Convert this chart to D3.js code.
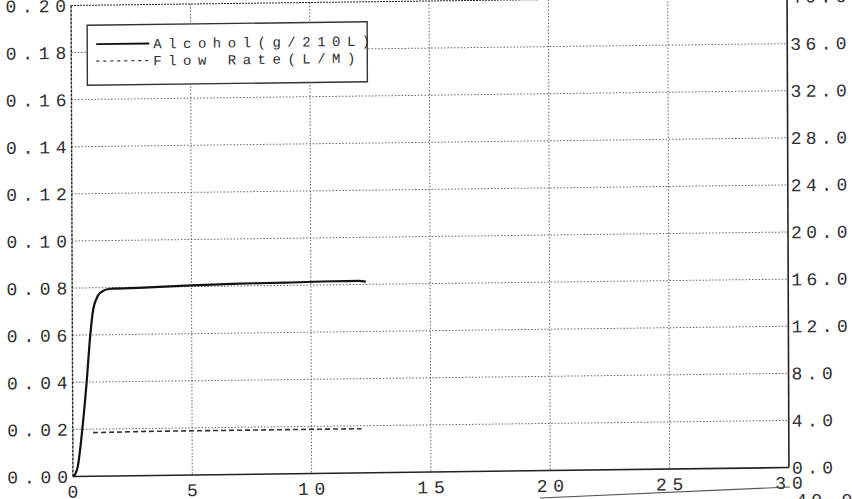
<!DOCTYPE html>
<html>
<head>
<meta charset="utf-8">
<script src="https://cdn.jsdelivr.net/npm/d3@7"></script>
<style>
  body { margin: 0; background: #fff; }
  text { font-family: "Liberation Mono", "DejaVu Sans Mono", monospace; }
</style>
</head>
<body>
<div id="plot"></div>
<script>
// values
const alcTime = [0, 0.1, 0.2, 0.4, 0.59, 0.75, 0.88, 1.0, 1.17, 1.6, 3, 5, 7, 9, 11, 12, 12.3];
const alcohol = [0, 0.001, 0.004, 0.02, 0.04, 0.06, 0.071, 0.075, 0.0778, 0.0795, 0.0798, 0.0805, 0.081, 0.0812, 0.0815, 0.0815, 0.0812];
const flowTime = [0.85, 3, 6, 9, 12.1];
const flowRate = [3.7, 3.75, 3.75, 3.75, 3.75];
const xTicks = [0, 5, 10, 15, 20, 25, 30];
const leftTicks = [0, 0.02, 0.04, 0.06, 0.08, 0.10, 0.12, 0.14, 0.16, 0.18, 0.20];
const rightTicks = [0, 4, 8, 12, 16, 20, 24, 28, 32, 36, 40];
const legendLabels = ["Alcohol(g/210L)", "Flow Rate(L/M)"];

const W = 852, H = 499;
const plot = { left: 72, right: 788, top: 1, bottom: 472 };

const x = d3.scaleLinear().domain([0, 30]).range([plot.left, plot.right]);
const y = d3.scaleLinear().domain([0, 0.2]).range([plot.bottom, plot.top]);
const y2 = d3.scaleLinear().domain([0, 40]).range([plot.bottom, plot.top]);

const svg = d3.select("#plot").append("svg")
  .attr("width", W)
  .attr("height", H);

// the scan is slightly skewed, so the whole chart gets a small skew
const sx = 0.004, sy = -0.0125, cx = 430, cy = 236;
const g = svg.append("g")
  .attr("transform", `matrix(1,${sy},${sx},1,${-sx * cy},${-sy * cx})`);

const ink = "#222", grid = "#666", txt = "#2e2e2e";
const tickSize = 18, tickSpacing = 5.8;

// grid
g.append("g").selectAll("line").data(leftTicks.slice(1, -1)).join("line")
  .attr("x1", plot.left).attr("x2", plot.right)
  .attr("y1", d => y(d)).attr("y2", d => y(d))
  .attr("stroke", grid).attr("stroke-width", 1).attr("stroke-dasharray", "1.5,1.8");

g.append("g").selectAll("line").data(xTicks.slice(1, -1)).join("line")
  .attr("x1", d => x(d)).attr("x2", d => x(d))
  .attr("y1", plot.top).attr("y2", plot.bottom)
  .attr("stroke", grid).attr("stroke-width", 1).attr("stroke-dasharray", "1.5,1.8");

// frame
g.append("line").attr("x1", plot.left).attr("x2", plot.right)
  .attr("y1", plot.top).attr("y2", plot.top)
  .attr("stroke", ink).attr("stroke-width", 1).attr("stroke-dasharray", "2,1");
g.append("line").attr("x1", plot.left).attr("x2", plot.right)
  .attr("y1", plot.bottom).attr("y2", plot.bottom)
  .attr("stroke", ink).attr("stroke-width", 1.6);
g.append("line").attr("x1", plot.left).attr("x2", plot.left)
  .attr("y1", plot.top).attr("y2", plot.bottom)
  .attr("stroke", ink).attr("stroke-width", 1.4).attr("stroke-dasharray", "3,1");
g.append("line").attr("x1", plot.right).attr("x2", plot.right)
  .attr("y1", plot.top).attr("y2", plot.bottom)
  .attr("stroke", ink).attr("stroke-width", 1.6);

// tick labels
g.append("g").selectAll("text").data(leftTicks).join("text")
  .attr("x", plot.left - 5 + tickSpacing)
  .attr("y", d => y(d))
  .attr("dy", "0.35em")
  .attr("text-anchor", "end")
  .attr("font-size", tickSize)
  .attr("letter-spacing", tickSpacing)
  .attr("fill", txt)
  .text(d => d3.format(".2f")(d));

g.append("g").selectAll("text").data(rightTicks).join("text")
  .attr("x", plot.right + 3)
  .attr("y", d => y2(d))
  .attr("dy", "0.35em")
  .attr("font-size", tickSize)
  .attr("letter-spacing", 4.4)
  .attr("fill", txt)
  .text(d => d3.format(".1f")(d));

g.append("g").selectAll("text").data(xTicks).join("text")
  .attr("x", d => x(d) + tickSpacing / 2)
  .attr("y", plot.bottom + 15)
  .attr("dy", "0.35em")
  .attr("text-anchor", "middle")
  .attr("font-size", tickSize)
  .attr("letter-spacing", tickSpacing)
  .attr("fill", txt)
  .text(d => d);

// series
const alcData = alcTime.map((t, i) => ({ t, v: alcohol[i] }));
const flowData = flowTime.map((t, i) => ({ t, v: flowRate[i] }));

g.append("path").datum(alcData)
  .attr("fill", "none")
  .attr("stroke", "#111")
  .attr("stroke-width", 2.2)
  .attr("stroke-linejoin", "round")
  .attr("d", d3.line().x(d => x(d.t)).y(d => y(d.v)).curve(d3.curveMonotoneX));

g.append("path").datum(flowData)
  .attr("fill", "none")
  .attr("stroke", "#333")
  .attr("stroke-width", 1.6)
  .attr("stroke-dasharray", "5,3")
  .attr("d", d3.line().x(d => x(d.t)).y(d => y2(d.v)));

// legend
const lg = g.append("g").attr("transform", "translate(88,21)");
lg.append("rect")
  .attr("width", 280).attr("height", 60)
  .attr("fill", "#fff")
  .attr("stroke", "#333").attr("stroke-width", 1.4);
legendLabels.forEach((label, i) => {
  const ly = 19 + i * 17;
  lg.append("line")
    .attr("x1", 9).attr("x2", 62)
    .attr("y1", ly).attr("y2", ly)
    .attr("stroke", i === 0 ? "#111" : "#333")
    .attr("stroke-width", i === 0 ? 1.8 : 1.2)
    .attr("stroke-dasharray", i === 0 ? null : "3,4");
  lg.append("text")
    .attr("x", 66).attr("y", ly)
    .attr("dy", "0.35em")
    .attr("font-size", 14)
    .attr("letter-spacing", 6.5)
    .attr("fill", txt)
    .text(label);
});

// edge of the next chart on the page, cut off by the scan
svg.append("line")
  .attr("x1", 540).attr("x2", 790).attr("y1", 498).attr("y2", 487)
  .attr("stroke", "#555").attr("stroke-width", 1.2);
svg.append("text")
  .attr("x", 796).attr("y", 506)
  .attr("font-size", tickSize)
  .attr("letter-spacing", 4.4)
  .attr("fill", txt)
  .text("40.0");
</script>
</body>
</html>
